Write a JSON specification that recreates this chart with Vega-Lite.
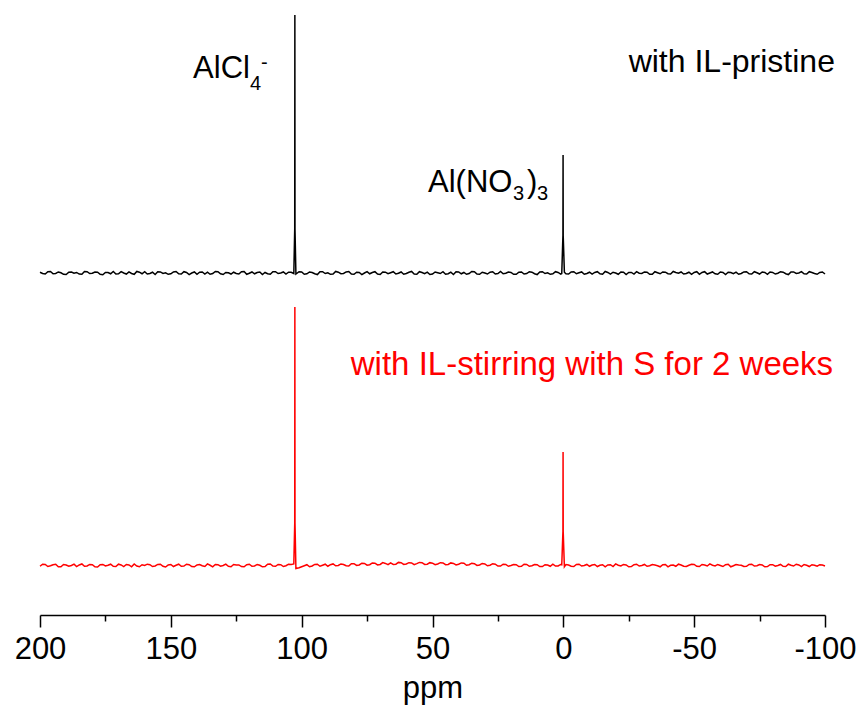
{
"$schema":"https://vega.github.io/schema/vega-lite/v6.json",
"autosize":{"type":"none"},
"padding":{"left":40,"right":37,"top":0,"bottom":106},
"width":785,"height":615,
"background":"white",
"config":{"view":{"stroke":null},"font":"Liberation Sans",
"axis":{"labelFont":"Liberation Sans","titleFont":"Liberation Sans","labelColor":"black","titleColor":"black","tickColor":"black","domainColor":"black","grid":false}},
"datasets":{
"black":[
{"ppm":200,"intensity":0.3},{"ppm":199,"intensity":-0.2},{"ppm":198,"intensity":-0.4},{"ppm":197,"intensity":0.5},{"ppm":196,"intensity":0.6},{"ppm":195,"intensity":-0.3},{"ppm":194,"intensity":-0.2},{"ppm":193,"intensity":0.4},{"ppm":192,"intensity":0.1},{"ppm":191,"intensity":-0.5},
{"ppm":190,"intensity":-0.6},{"ppm":189,"intensity":0.3},{"ppm":188,"intensity":0.4},{"ppm":187,"intensity":-0.1},{"ppm":186,"intensity":0.2},{"ppm":185,"intensity":-0.4},{"ppm":184,"intensity":-0.5},{"ppm":183,"intensity":0.6},{"ppm":182,"intensity":0.5},{"ppm":181,"intensity":-0.2},
{"ppm":180,"intensity":-0.1},{"ppm":179,"intensity":0.4},{"ppm":178,"intensity":0.3},{"ppm":177,"intensity":-0.5},{"ppm":176,"intensity":-0.7},{"ppm":175,"intensity":0.2},{"ppm":174,"intensity":0.2},{"ppm":173,"intensity":-0.3},{"ppm":172,"intensity":0.6},{"ppm":171,"intensity":-0.4},
{"ppm":170,"intensity":-0.3},{"ppm":169,"intensity":0.5},{"ppm":168,"intensity":0.0},{"ppm":167,"intensity":-0.4},{"ppm":166,"intensity":0.4},{"ppm":165,"intensity":-0.2},{"ppm":164,"intensity":-0.5},{"ppm":163,"intensity":0.6},{"ppm":162,"intensity":0.3},{"ppm":161,"intensity":-0.3},
{"ppm":160,"intensity":0.5},{"ppm":159,"intensity":-0.4},{"ppm":158,"intensity":-0.2},{"ppm":157,"intensity":0.3},{"ppm":156,"intensity":-0.6},{"ppm":155,"intensity":0.5},{"ppm":154,"intensity":0.4},{"ppm":153,"intensity":-0.2},{"ppm":152,"intensity":0.1},{"ppm":151,"intensity":-0.5},
{"ppm":150,"intensity":-0.3},{"ppm":149,"intensity":0.4},{"ppm":148,"intensity":0.6},{"ppm":147,"intensity":-0.3},{"ppm":146,"intensity":-0.4},{"ppm":145,"intensity":0.5},{"ppm":144,"intensity":0.2},{"ppm":143,"intensity":-0.6},{"ppm":142,"intensity":0.0},{"ppm":141,"intensity":0.4},
{"ppm":140,"intensity":-0.5},{"ppm":139,"intensity":0.3},{"ppm":138,"intensity":0.4},{"ppm":137,"intensity":-0.4},{"ppm":136,"intensity":0.3},{"ppm":135,"intensity":-0.5},{"ppm":134,"intensity":-0.2},{"ppm":133,"intensity":0.6},{"ppm":132,"intensity":0.5},{"ppm":131,"intensity":-0.3},
{"ppm":130,"intensity":-0.6},{"ppm":129,"intensity":0.2},{"ppm":128,"intensity":0.1},{"ppm":127,"intensity":-0.4},{"ppm":126,"intensity":0.3},{"ppm":125,"intensity":-0.2},{"ppm":124,"intensity":-0.4},{"ppm":123,"intensity":0.5},{"ppm":122,"intensity":0.6},{"ppm":121,"intensity":-0.5},
{"ppm":120,"intensity":-0.1},{"ppm":119,"intensity":0.4},{"ppm":118,"intensity":-0.3},{"ppm":117,"intensity":0.2},{"ppm":116,"intensity":0.4},{"ppm":115,"intensity":-0.6},{"ppm":114,"intensity":0.2},{"ppm":113,"intensity":-0.3},{"ppm":112,"intensity":-0.5},{"ppm":111,"intensity":0.5},
{"ppm":110,"intensity":0.5},{"ppm":109,"intensity":-0.2},{"ppm":108,"intensity":0.0},{"ppm":107,"intensity":0.4},{"ppm":106,"intensity":-0.4},{"ppm":105,"intensity":0.3},{"ppm":104,"intensity":0.3},
{"ppm":103,"intensity":-0.2},{"ppm":102.65,"intensity":17.4},{"ppm":102.6,"intensity":100},{"ppm":102.55,"intensity":17},{"ppm":102.2,"intensity":-0.4},{"ppm":101,"intensity":0.5},
{"ppm":100,"intensity":0.4},{"ppm":99,"intensity":-0.5},{"ppm":98,"intensity":-0.3},{"ppm":97,"intensity":0.4},{"ppm":96,"intensity":0.2},{"ppm":95,"intensity":-0.3},{"ppm":94,"intensity":-0.6},{"ppm":93,"intensity":0.5},{"ppm":92,"intensity":0.5},{"ppm":91,"intensity":-0.2},
{"ppm":90,"intensity":0.1},{"ppm":89,"intensity":-0.5},{"ppm":88,"intensity":-0.4},{"ppm":87,"intensity":0.6},{"ppm":86,"intensity":0.3},{"ppm":85,"intensity":-0.3},{"ppm":84,"intensity":-0.2},{"ppm":83,"intensity":0.4},{"ppm":82,"intensity":0.6},{"ppm":81,"intensity":-0.4},
{"ppm":80,"intensity":-0.5},{"ppm":79,"intensity":0.3},{"ppm":78,"intensity":0.2},{"ppm":77,"intensity":-0.6},{"ppm":76,"intensity":0.0},{"ppm":75,"intensity":0.5},{"ppm":74,"intensity":-0.3},{"ppm":73,"intensity":0.2},{"ppm":72,"intensity":0.5},{"ppm":71,"intensity":-0.4},
{"ppm":70,"intensity":-0.6},{"ppm":69,"intensity":0.4},{"ppm":68,"intensity":0.3},{"ppm":67,"intensity":-0.3},{"ppm":66,"intensity":0.1},{"ppm":65,"intensity":0.5},{"ppm":64,"intensity":-0.4},{"ppm":63,"intensity":-0.1},{"ppm":62,"intensity":0.4},{"ppm":61,"intensity":-0.5},
{"ppm":60,"intensity":-0.2},{"ppm":59,"intensity":0.3},{"ppm":58,"intensity":0.6},{"ppm":57,"intensity":-0.4},{"ppm":56,"intensity":-0.5},{"ppm":55,"intensity":0.5},{"ppm":54,"intensity":0.2},{"ppm":53,"intensity":-0.3},{"ppm":52,"intensity":0.3},{"ppm":51,"intensity":-0.6},
{"ppm":50,"intensity":-0.4},{"ppm":49,"intensity":0.4},{"ppm":48,"intensity":0.1},{"ppm":47,"intensity":-0.2},{"ppm":46,"intensity":0.5},{"ppm":45,"intensity":-0.5},{"ppm":44,"intensity":-0.3},{"ppm":43,"intensity":0.3},{"ppm":42,"intensity":-0.6},{"ppm":41,"intensity":0.5},
{"ppm":40,"intensity":0.4},{"ppm":39,"intensity":-0.3},{"ppm":38,"intensity":0.2},{"ppm":37,"intensity":-0.5},{"ppm":36,"intensity":-0.2},{"ppm":35,"intensity":0.6},{"ppm":34,"intensity":0.5},{"ppm":33,"intensity":-0.4},{"ppm":32,"intensity":-0.5},{"ppm":31,"intensity":0.3},
{"ppm":30,"intensity":0.0},{"ppm":29,"intensity":-0.4},{"ppm":28,"intensity":0.3},{"ppm":27,"intensity":0.5},{"ppm":26,"intensity":-0.4},{"ppm":25,"intensity":-0.2},{"ppm":24,"intensity":0.6},{"ppm":23,"intensity":-0.3},{"ppm":22,"intensity":-0.1},{"ppm":21,"intensity":0.4},
{"ppm":20,"intensity":0.2},{"ppm":19,"intensity":-0.5},{"ppm":18,"intensity":-0.5},{"ppm":17,"intensity":0.3},{"ppm":16,"intensity":0.4},{"ppm":15,"intensity":-0.4},{"ppm":14,"intensity":-0.2},{"ppm":13,"intensity":0.5},{"ppm":12,"intensity":0.3},{"ppm":11,"intensity":-0.3},
{"ppm":10,"intensity":-0.6},{"ppm":9,"intensity":0.4},{"ppm":8,"intensity":0.5},{"ppm":7,"intensity":-0.2},{"ppm":6,"intensity":0.1},{"ppm":5,"intensity":-0.5},{"ppm":4,"intensity":-0.3},{"ppm":3,"intensity":0.5},{"ppm":2,"intensity":0.2},{"ppm":1,"intensity":-0.4},
{"ppm":0.6,"intensity":-0.2},{"ppm":0.15,"intensity":14.7},{"ppm":0.1,"intensity":45.7},{"ppm":0.05,"intensity":14.5},{"ppm":-0.4,"intensity":0.3},
{"ppm":-1,"intensity":-0.3},{"ppm":-2,"intensity":-0.4},{"ppm":-3,"intensity":0.4},{"ppm":-4,"intensity":0.5},{"ppm":-5,"intensity":-0.3},{"ppm":-6,"intensity":0.1},{"ppm":-7,"intensity":0.4},{"ppm":-8,"intensity":-0.5},{"ppm":-9,"intensity":-0.2},{"ppm":-10,"intensity":0.3},
{"ppm":-11,"intensity":-0.4},{"ppm":-12,"intensity":0.2},{"ppm":-13,"intensity":0.5},{"ppm":-14,"intensity":-0.3},{"ppm":-15,"intensity":-0.5},{"ppm":-16,"intensity":0.6},{"ppm":-17,"intensity":0.2},{"ppm":-18,"intensity":-0.4},{"ppm":-19,"intensity":0.3},{"ppm":-20,"intensity":0.0},
{"ppm":-21,"intensity":-0.5},{"ppm":-22,"intensity":0.4},{"ppm":-23,"intensity":0.3},{"ppm":-24,"intensity":-0.6},{"ppm":-25,"intensity":0.2},{"ppm":-26,"intensity":0.2},{"ppm":-27,"intensity":-0.4},{"ppm":-28,"intensity":0.5},{"ppm":-29,"intensity":-0.1},{"ppm":-30,"intensity":-0.2},
{"ppm":-31,"intensity":0.4},{"ppm":-32,"intensity":0.3},{"ppm":-33,"intensity":-0.5},{"ppm":-34,"intensity":-0.5},{"ppm":-35,"intensity":0.5},{"ppm":-36,"intensity":0.1},{"ppm":-37,"intensity":-0.3},{"ppm":-38,"intensity":0.4},{"ppm":-39,"intensity":0.3},{"ppm":-40,"intensity":-0.3},
{"ppm":-41,"intensity":-0.4},{"ppm":-42,"intensity":0.6},{"ppm":-43,"intensity":0.2},{"ppm":-44,"intensity":-0.1},{"ppm":-45,"intensity":0.4},{"ppm":-46,"intensity":-0.4},{"ppm":-47,"intensity":-0.2},{"ppm":-48,"intensity":0.3},{"ppm":-49,"intensity":-0.5},{"ppm":-50,"intensity":0.2},
{"ppm":-51,"intensity":0.5},{"ppm":-52,"intensity":-0.5},{"ppm":-53,"intensity":0.2},{"ppm":-54,"intensity":0.5},{"ppm":-55,"intensity":-0.4},{"ppm":-56,"intensity":0.0},{"ppm":-57,"intensity":0.4},{"ppm":-58,"intensity":-0.3},{"ppm":-59,"intensity":-0.5},{"ppm":-60,"intensity":0.4},
{"ppm":-61,"intensity":0.2},{"ppm":-62,"intensity":-0.6},{"ppm":-63,"intensity":0.3},{"ppm":-64,"intensity":0.2},{"ppm":-65,"intensity":-0.3},{"ppm":-66,"intensity":0.3},{"ppm":-67,"intensity":-0.5},{"ppm":-68,"intensity":-0.2},{"ppm":-69,"intensity":0.4},{"ppm":-70,"intensity":0.5},
{"ppm":-71,"intensity":-0.3},{"ppm":-72,"intensity":-0.4},{"ppm":-73,"intensity":0.5},{"ppm":-74,"intensity":0.1},{"ppm":-75,"intensity":-0.4},{"ppm":-76,"intensity":0.4},{"ppm":-77,"intensity":0.2},{"ppm":-78,"intensity":-0.5},{"ppm":-79,"intensity":0.4},{"ppm":-80,"intensity":0.2},
{"ppm":-81,"intensity":-0.4},{"ppm":-82,"intensity":-0.1},{"ppm":-83,"intensity":0.5},{"ppm":-84,"intensity":0.3},{"ppm":-85,"intensity":-0.3},{"ppm":-86,"intensity":-0.6},{"ppm":-87,"intensity":0.4},{"ppm":-88,"intensity":0.4},{"ppm":-89,"intensity":-0.2},{"ppm":-90,"intensity":0.0},
{"ppm":-91,"intensity":0.5},{"ppm":-92,"intensity":-0.3},{"ppm":-93,"intensity":-0.4},{"ppm":-94,"intensity":0.5},{"ppm":-95,"intensity":0.2},{"ppm":-96,"intensity":-0.2},{"ppm":-97,"intensity":-0.5},{"ppm":-98,"intensity":0.2},{"ppm":-99,"intensity":0.4},{"ppm":-100,"intensity":-0.4}
],
"red":[
{"ppm":200,"intensity":-0.3},{"ppm":199,"intensity":0.5},{"ppm":198,"intensity":0.4},{"ppm":197,"intensity":-0.4},{"ppm":196,"intensity":-0.1},{"ppm":195,"intensity":0.3},{"ppm":194,"intensity":0.5},{"ppm":193,"intensity":-0.5},{"ppm":192,"intensity":-0.5},{"ppm":191,"intensity":0.4},
{"ppm":190,"intensity":0.2},{"ppm":189,"intensity":-0.3},{"ppm":188,"intensity":0.0},{"ppm":187,"intensity":0.5},{"ppm":186,"intensity":-0.4},{"ppm":185,"intensity":0.2},{"ppm":184,"intensity":0.6},{"ppm":183,"intensity":-0.3},{"ppm":182,"intensity":-0.2},{"ppm":181,"intensity":0.4},
{"ppm":180,"intensity":0.3},{"ppm":179,"intensity":-0.5},{"ppm":178,"intensity":-0.6},{"ppm":177,"intensity":0.3},{"ppm":176,"intensity":0.4},{"ppm":175,"intensity":-0.2},{"ppm":174,"intensity":0.1},{"ppm":173,"intensity":0.5},{"ppm":172,"intensity":-0.3},{"ppm":171,"intensity":-0.4},
{"ppm":170,"intensity":0.5},{"ppm":169,"intensity":0.2},{"ppm":168,"intensity":-0.4},{"ppm":167,"intensity":0.4},{"ppm":166,"intensity":0.2},{"ppm":165,"intensity":-0.5},{"ppm":164,"intensity":0.6},{"ppm":163,"intensity":-0.2},{"ppm":162,"intensity":-0.5},{"ppm":161,"intensity":0.3},
{"ppm":160,"intensity":0.0},{"ppm":159,"intensity":0.5},{"ppm":158,"intensity":0.3},{"ppm":157,"intensity":-0.4},{"ppm":156,"intensity":-0.2},{"ppm":155,"intensity":0.4},{"ppm":154,"intensity":0.5},{"ppm":153,"intensity":-0.3},{"ppm":152,"intensity":-0.6},{"ppm":151,"intensity":0.2},
{"ppm":150,"intensity":0.4},{"ppm":149,"intensity":-0.4},{"ppm":148,"intensity":0.1},{"ppm":147,"intensity":0.5},{"ppm":146,"intensity":-0.3},{"ppm":145,"intensity":-0.2},{"ppm":144,"intensity":0.5},{"ppm":143,"intensity":0.3},{"ppm":142,"intensity":-0.4},{"ppm":141,"intensity":-0.5},
{"ppm":140,"intensity":0.2},{"ppm":139,"intensity":0.4},{"ppm":138,"intensity":-0.1},{"ppm":137,"intensity":-0.4},{"ppm":136,"intensity":0.6},{"ppm":135,"intensity":0.1},{"ppm":134,"intensity":-0.5},{"ppm":133,"intensity":0.4},{"ppm":132,"intensity":0.3},{"ppm":131,"intensity":-0.3},
{"ppm":130,"intensity":0.0},{"ppm":129,"intensity":0.5},{"ppm":128,"intensity":-0.3},{"ppm":127,"intensity":-0.5},{"ppm":126,"intensity":0.4},{"ppm":125,"intensity":0.2},{"ppm":124,"intensity":0.2},{"ppm":123,"intensity":-0.4},{"ppm":122,"intensity":-0.5},{"ppm":121,"intensity":0.3},
{"ppm":120,"intensity":0.5},{"ppm":119,"intensity":-0.3},{"ppm":118,"intensity":-0.2},{"ppm":117,"intensity":0.4},{"ppm":116,"intensity":0.1},{"ppm":115,"intensity":-0.5},{"ppm":114,"intensity":-0.4},{"ppm":113,"intensity":0.5},{"ppm":112,"intensity":0.6},{"ppm":111,"intensity":-0.2},
{"ppm":110,"intensity":-0.3},{"ppm":109,"intensity":0.4},{"ppm":108,"intensity":0.3},{"ppm":107,"intensity":-0.4},{"ppm":106,"intensity":-0.1},{"ppm":105,"intensity":0.5},{"ppm":104,"intensity":0.4},
{"ppm":103,"intensity":0.6},{"ppm":102.65,"intensity":16.5},{"ppm":102.6,"intensity":100.2},{"ppm":102.55,"intensity":16.5},{"ppm":102.2,"intensity":-1.2},{"ppm":101,"intensity":-0.9},
{"ppm":100,"intensity":-0.5},{"ppm":99,"intensity":-0.1},{"ppm":98,"intensity":0.3},{"ppm":97,"intensity":-0.5},{"ppm":96,"intensity":-0.2},{"ppm":95,"intensity":0.4},{"ppm":94,"intensity":0.5},{"ppm":93,"intensity":-0.3},{"ppm":92,"intensity":0.1},{"ppm":91,"intensity":0.5},
{"ppm":90,"intensity":-0.3},{"ppm":89,"intensity":0.3},{"ppm":88,"intensity":0.6},{"ppm":87,"intensity":-0.1},{"ppm":86,"intensity":0.0},{"ppm":85,"intensity":0.6},{"ppm":84,"intensity":0.4},{"ppm":83,"intensity":-0.1},{"ppm":82,"intensity":-0.2},{"ppm":81,"intensity":0.7},
{"ppm":80,"intensity":0.7},{"ppm":79,"intensity":0.0},{"ppm":78,"intensity":0.2},{"ppm":77,"intensity":0.9},{"ppm":76,"intensity":0.8},{"ppm":75,"intensity":0.1},{"ppm":74,"intensity":0.3},{"ppm":73,"intensity":1.0},{"ppm":72,"intensity":0.9},{"ppm":71,"intensity":0.2},
{"ppm":70,"intensity":0.4},{"ppm":69,"intensity":1.1},{"ppm":68,"intensity":0.8},{"ppm":67,"intensity":0.3},{"ppm":66,"intensity":1.0},{"ppm":65,"intensity":0.4},{"ppm":64,"intensity":0.5},{"ppm":63,"intensity":1.2},{"ppm":62,"intensity":1.1},{"ppm":61,"intensity":0.4},
{"ppm":60,"intensity":0.6},{"ppm":59,"intensity":1.1},{"ppm":58,"intensity":1.0},{"ppm":57,"intensity":0.3},{"ppm":56,"intensity":0.7},{"ppm":55,"intensity":1.2},{"ppm":54,"intensity":1.1},{"ppm":53,"intensity":0.4},{"ppm":52,"intensity":0.5},{"ppm":51,"intensity":1.1},
{"ppm":50,"intensity":0.9},{"ppm":49,"intensity":0.3},{"ppm":48,"intensity":0.6},{"ppm":47,"intensity":1.1},{"ppm":46,"intensity":1.0},{"ppm":45,"intensity":0.3},{"ppm":44,"intensity":0.4},{"ppm":43,"intensity":1.0},{"ppm":42,"intensity":0.8},{"ppm":41,"intensity":0.2},
{"ppm":40,"intensity":0.5},{"ppm":39,"intensity":1.0},{"ppm":38,"intensity":0.9},{"ppm":37,"intensity":0.1},{"ppm":36,"intensity":0.3},{"ppm":35,"intensity":0.9},{"ppm":34,"intensity":0.7},{"ppm":33,"intensity":0.0},{"ppm":32,"intensity":0.2},{"ppm":31,"intensity":0.8},
{"ppm":30,"intensity":0.6},{"ppm":29,"intensity":-0.1},{"ppm":28,"intensity":0.1},{"ppm":27,"intensity":0.7},{"ppm":26,"intensity":0.5},{"ppm":25,"intensity":-0.2},{"ppm":24,"intensity":-0.2},{"ppm":23,"intensity":0.5},{"ppm":22,"intensity":0.4},{"ppm":21,"intensity":-0.3},
{"ppm":20,"intensity":0.0},{"ppm":19,"intensity":0.4},{"ppm":18,"intensity":0.3},{"ppm":17,"intensity":-0.4},{"ppm":16,"intensity":-0.3},{"ppm":15,"intensity":0.5},{"ppm":14,"intensity":0.4},{"ppm":13,"intensity":-0.3},{"ppm":12,"intensity":-0.1},{"ppm":11,"intensity":0.4},
{"ppm":10,"intensity":0.3},{"ppm":9,"intensity":-0.4},{"ppm":8,"intensity":-0.4},{"ppm":7,"intensity":0.3},{"ppm":6,"intensity":0.2},{"ppm":5,"intensity":-0.3},{"ppm":4,"intensity":0.5},{"ppm":3,"intensity":-0.2},{"ppm":2,"intensity":-0.2},{"ppm":1,"intensity":0.4},
{"ppm":0.6,"intensity":0.3},{"ppm":0.15,"intensity":13.4},{"ppm":0.1,"intensity":44},{"ppm":0.05,"intensity":13.2},{"ppm":-0.4,"intensity":-0.5},
{"ppm":-1,"intensity":0.4},{"ppm":-2,"intensity":0.2},{"ppm":-3,"intensity":-0.3},{"ppm":-4,"intensity":-0.4},{"ppm":-5,"intensity":0.4},{"ppm":-6,"intensity":0.5},{"ppm":-7,"intensity":-0.2},{"ppm":-8,"intensity":0.0},{"ppm":-9,"intensity":0.4},{"ppm":-10,"intensity":-0.3},
{"ppm":-11,"intensity":0.2},{"ppm":-12,"intensity":0.4},{"ppm":-13,"intensity":-0.4},{"ppm":-14,"intensity":0.1},{"ppm":-15,"intensity":0.3},{"ppm":-16,"intensity":-0.5},{"ppm":-17,"intensity":0.2},{"ppm":-18,"intensity":0.3},{"ppm":-19,"intensity":-0.4},{"ppm":-20,"intensity":0.6},
{"ppm":-21,"intensity":0.1},{"ppm":-22,"intensity":-0.2},{"ppm":-23,"intensity":0.4},{"ppm":-24,"intensity":0.2},{"ppm":-25,"intensity":-0.5},{"ppm":-26,"intensity":-0.4},{"ppm":-27,"intensity":0.3},{"ppm":-28,"intensity":0.5},{"ppm":-29,"intensity":-0.2},{"ppm":-30,"intensity":0.0},
{"ppm":-31,"intensity":0.4},{"ppm":-32,"intensity":-0.3},{"ppm":-33,"intensity":-0.1},{"ppm":-34,"intensity":0.4},{"ppm":-35,"intensity":0.2},{"ppm":-36,"intensity":-0.1},{"ppm":-37,"intensity":-0.5},{"ppm":-38,"intensity":0.3},{"ppm":-39,"intensity":0.4},{"ppm":-40,"intensity":-0.5},
{"ppm":-41,"intensity":0.1},{"ppm":-42,"intensity":0.2},{"ppm":-43,"intensity":-0.3},{"ppm":-44,"intensity":0.5},{"ppm":-45,"intensity":0.2},{"ppm":-46,"intensity":-0.3},{"ppm":-47,"intensity":-0.4},{"ppm":-48,"intensity":0.1},{"ppm":-49,"intensity":0.5},{"ppm":-50,"intensity":0.4},
{"ppm":-51,"intensity":-0.3},{"ppm":-52,"intensity":-0.4},{"ppm":-53,"intensity":0.4},{"ppm":-54,"intensity":0.2},{"ppm":-55,"intensity":-0.2},{"ppm":-56,"intensity":0.6},{"ppm":-57,"intensity":0.1},{"ppm":-58,"intensity":-0.2},{"ppm":-59,"intensity":0.4},{"ppm":-60,"intensity":0.0},
{"ppm":-61,"intensity":-0.4},{"ppm":-62,"intensity":0.3},{"ppm":-63,"intensity":0.5},{"ppm":-64,"intensity":-0.5},{"ppm":-65,"intensity":-0.1},{"ppm":-66,"intensity":0.4},{"ppm":-67,"intensity":0.2},{"ppm":-68,"intensity":0.1},{"ppm":-69,"intensity":-0.4},{"ppm":-70,"intensity":-0.3},
{"ppm":-71,"intensity":0.4},{"ppm":-72,"intensity":0.5},{"ppm":-73,"intensity":-0.2},{"ppm":-74,"intensity":-0.1},{"ppm":-75,"intensity":0.4},{"ppm":-76,"intensity":0.2},{"ppm":-77,"intensity":-0.5},{"ppm":-78,"intensity":-0.4},{"ppm":-79,"intensity":0.3},{"ppm":-80,"intensity":0.3},
{"ppm":-81,"intensity":-0.3},{"ppm":-82,"intensity":0.0},{"ppm":-83,"intensity":0.4},{"ppm":-84,"intensity":-0.3},{"ppm":-85,"intensity":-0.4},{"ppm":-86,"intensity":0.5},{"ppm":-87,"intensity":0.1},{"ppm":-88,"intensity":-0.2},{"ppm":-89,"intensity":0.5},{"ppm":-90,"intensity":0.2},
{"ppm":-91,"intensity":-0.4},{"ppm":-92,"intensity":0.4},{"ppm":-93,"intensity":0.1},{"ppm":-94,"intensity":-0.4},{"ppm":-95,"intensity":0.3},{"ppm":-96,"intensity":0.1},{"ppm":-97,"intensity":-0.3},{"ppm":-98,"intensity":0.3},{"ppm":-99,"intensity":0.2},{"ppm":-100,"intensity":-0.2}
],
"labels":[
{"text":"AlCl","ppm":141.5,"intensity":75.6,"kind":"main"},
{"text":"4","ppm":119.75,"intensity":70.9,"kind":"sub"},
{"text":"-","ppm":115.5,"intensity":79.1,"kind":"sub"},
{"text":"Al(NO","ppm":51.7,"intensity":31.4,"kind":"main"},
{"text":"3","ppm":19.24,"intensity":28.3,"kind":"sub"},
{"text":")","ppm":13.9,"intensity":31.4,"kind":"main"},
{"text":"3","ppm":10.1,"intensity":28.3,"kind":"sub"},
{"text":"with IL-pristine","ppm":-103.8,"intensity":77.9,"kind":"title"}
],
"redlabels":[
{"text":"with IL-stirring with S for 2 weeks","ppm":-103.1,"intensity":73.84}
]
},
"layer":[
{"data":{"name":"black"},"mark":{"type":"line","color":"black","strokeWidth":1.5},
"encoding":{
"x":{"field":"ppm","type":"quantitative","scale":{"domain":[200,-100],"nice":false,"zero":false},
"axis":{"orient":"bottom","values":[200,150,100,50,0,-50,-100],"labelExpr":"'' + datum.value","tickSize":12,"tickWidth":1.5,"domainWidth":1.5,"labelFontSize":31,"labelPadding":7,"labelFlush":false,"labelOverlap":false,"title":"ppm","titleFontSize":31,"titleFontWeight":"normal","titlePadding":9}},
"y":{"field":"intensity","type":"quantitative","scale":{"domain":[-132.56,105.81],"nice":false,"zero":false},"axis":null},
"order":{"field":"ppm","sort":"descending"}}},
{"data":{"name":"red"},"mark":{"type":"line","color":"#ff0000","strokeWidth":1.5},
"encoding":{
"x":{"field":"ppm","type":"quantitative","scale":{"domain":[200,-100],"nice":false,"zero":false},
"axis":{"orient":"bottom","values":[175,125,75,25,-25,-75],"labels":false,"domain":false,"tickSize":6,"tickWidth":1.5,"title":null}},
"y":{"field":"intensity","type":"quantitative","scale":{"domain":[-19.19,219.19],"nice":false,"zero":false},"axis":null},
"order":{"field":"ppm","sort":"descending"}}},
{"data":{"name":"labels"},"transform":[{"filter":"datum.kind==='main'"}],
"mark":{"type":"text","align":"left","baseline":"alphabetic","fontSize":31,"color":"black","font":"Liberation Sans"},
"encoding":{"x":{"field":"ppm","type":"quantitative","axis":null},"y":{"field":"intensity","type":"quantitative","scale":{"domain":[-132.56,105.81],"nice":false,"zero":false},"axis":null},"text":{"field":"text"}}},
{"data":{"name":"labels"},"transform":[{"filter":"datum.kind==='sub'"}],
"mark":{"type":"text","align":"left","baseline":"alphabetic","fontSize":20,"color":"black","font":"Liberation Sans"},
"encoding":{"x":{"field":"ppm","type":"quantitative","axis":null},"y":{"field":"intensity","type":"quantitative","scale":{"domain":[-132.56,105.81],"nice":false,"zero":false},"axis":null},"text":{"field":"text"}}},
{"data":{"name":"labels"},"transform":[{"filter":"datum.kind==='title'"}],
"mark":{"type":"text","align":"right","baseline":"alphabetic","fontSize":32,"color":"black","font":"Liberation Sans"},
"encoding":{"x":{"field":"ppm","type":"quantitative","axis":null},"y":{"field":"intensity","type":"quantitative","scale":{"domain":[-132.56,105.81],"nice":false,"zero":false},"axis":null},"text":{"field":"text"}}},
{"data":{"name":"redlabels"},
"mark":{"type":"text","align":"right","baseline":"alphabetic","fontSize":33,"color":"#ff0000","font":"Liberation Sans"},
"encoding":{"x":{"field":"ppm","type":"quantitative","axis":null},"y":{"field":"intensity","type":"quantitative","scale":{"domain":[-19.19,219.19],"nice":false,"zero":false},"axis":null},"text":{"field":"text"}}}
],
"resolve":{"scale":{"y":"independent"},"axis":{"x":"independent"}}
}
